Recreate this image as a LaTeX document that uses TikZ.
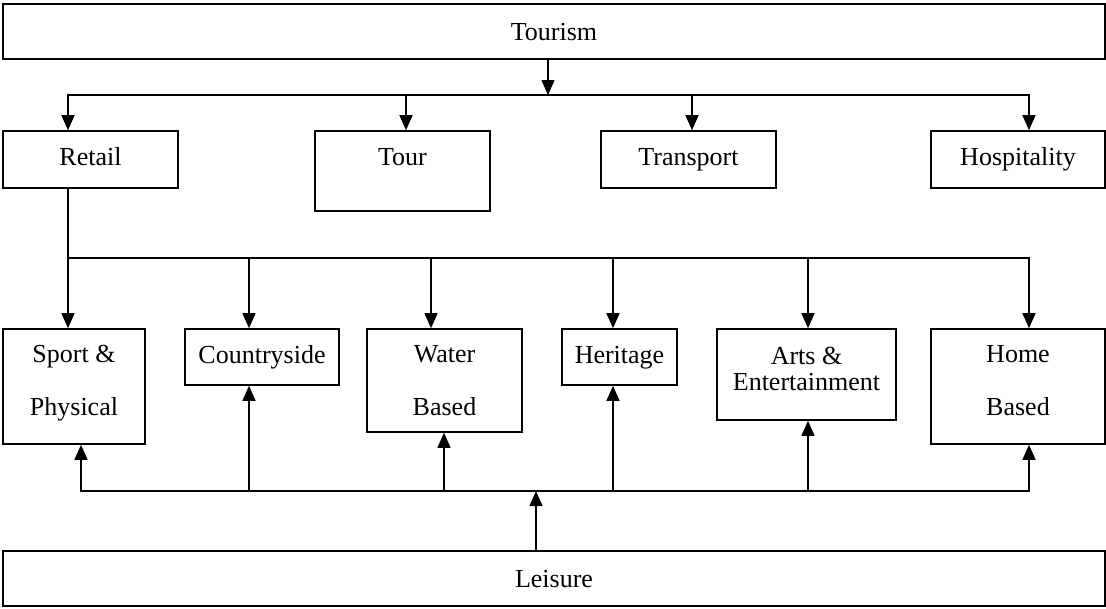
\documentclass[tikz,border=0pt]{standalone}
\usepackage{fontspec}
\setmainfont{Liberation Serif}
\usetikzlibrary{arrows.meta}
\begin{document}
\begin{tikzpicture}[x=1pt,y=-1pt,
  box/.style={draw, line width=1.6pt, rectangle, inner sep=0pt},
  txt/.style={anchor=base, inner sep=0pt, font=\fontsize{26}{31}\selectfont},
  conn/.style={line width=1.3pt},
  arr/.style={conn, -{Triangle[length=15pt,width=13pt]}}]
\useasboundingbox (0,0) rectangle (1106,608);
% top and bottom bars
\node[box, minimum width=1102pt, minimum height=55pt] (tourism) at (554,31.5) {};
\node[txt] (tourism-t) at (554,40) {Tourism};
\node[box, minimum width=1102pt, minimum height=55pt] (leisure) at (554,578.5) {};
\node[txt] (leisure-t) at (554,587) {Leisure};
% first row
\node[box, minimum width=175pt, minimum height=57pt] (retail) at (90.5,159.5) {};
\node[txt] (retail-t) at (90.5,165) {Retail};
\node[box, minimum width=175pt, minimum height=80pt] (tour) at (402.5,171) {};
\node[txt] (tour-t) at (402.5,165) {Tour};
\node[box, minimum width=175pt, minimum height=57pt] (transport) at (688.5,159.5) {};
\node[txt] (transport-t) at (688.5,165) {Transport};
\node[box, minimum width=174pt, minimum height=57pt] (hosp) at (1018,159.5) {};
\node[txt] (hosp-t) at (1018,165) {Hospitality};
% second row
\node[box, minimum width=142pt, minimum height=115pt] (sport) at (74,386.5) {};
\node[txt] (sport-t1) at (74,362) {Sport \&};
\node[txt] (sport-t2) at (74,415) {Physical};
\node[box, minimum width=154pt, minimum height=56pt] (country) at (262,357) {};
\node[txt] (country-t) at (262,363) {Countryside};
\node[box, minimum width=155pt, minimum height=103pt] (water) at (444.5,380.5) {};
\node[txt] (water-t1) at (444.5,362) {Water};
\node[txt] (water-t2) at (444.5,415) {Based};
\node[box, minimum width=115pt, minimum height=56pt] (heritage) at (619.5,357) {};
\node[txt] (heritage-t) at (619.5,363) {Heritage};
\node[box, minimum width=179pt, minimum height=91pt] (arts) at (806.5,374.5) {};
\node[txt] (arts-t1) at (806.5,364) {Arts \&};
\node[txt] (arts-t2) at (806.5,390) {Entertainment};
\node[box, minimum width=174pt, minimum height=115pt] (home) at (1018,386.5) {};
\node[txt] (home-t1) at (1018,362) {Home};
\node[txt] (home-t2) at (1018,415) {Based};
% junction coordinates
\coordinate (t1) at (548,95);
\coordinate (l1a) at (68,95);
\coordinate (l1b) at (1029,95);
\coordinate (d1) at (406,95);
\coordinate (d2) at (692,95);
\coordinate (l2a) at (68,258);
\coordinate (l2b) at (1029,258);
\coordinate (m1) at (249,258);
\coordinate (m2) at (431,258);
\coordinate (m3) at (613,258);
\coordinate (m4) at (808,258);
\coordinate (l3a) at (81,491);
\coordinate (l3b) at (1029,491);
\coordinate (u1) at (249,491);
\coordinate (u2) at (444,491);
\coordinate (u3) at (613,491);
\coordinate (u4) at (808,491);
\coordinate (lm) at (536,491);
% Tourism to first row
\draw[arr] (tourism.south -| t1) -- (t1);
\draw[arr] (t1) -- (l1a) -- (l1a |- retail.north);
\draw[arr] (l1a) -- (l1b) -- (l1b |- hosp.north);
\draw[arr] (d1) -- (d1 |- tour.north);
\draw[arr] (d2) -- (d2 |- transport.north);
% Retail to second row
\draw[arr] (retail.south -| l2a) -- (l2a |- sport.north);
\draw[arr] (l2a) -- (l2b) -- (l2b |- home.north);
\draw[arr] (m1) -- (m1 |- country.north);
\draw[arr] (m2) -- (m2 |- water.north);
\draw[arr] (m3) -- (m3 |- heritage.north);
\draw[arr] (m4) -- (m4 |- arts.north);
% Leisure to second row
\draw[arr] (leisure.north -| lm) -- (lm);
\draw[arr] (l3b) -- (l3a) -- (l3a |- sport.south);
\draw[arr] (l3a) -- (l3b) -- (l3b |- home.south);
\draw[arr] (u1) -- (u1 |- country.south);
\draw[arr] (u2) -- (u2 |- water.south);
\draw[arr] (u3) -- (u3 |- heritage.south);
\draw[arr] (u4) -- (u4 |- arts.south);
\end{tikzpicture}
\end{document}
